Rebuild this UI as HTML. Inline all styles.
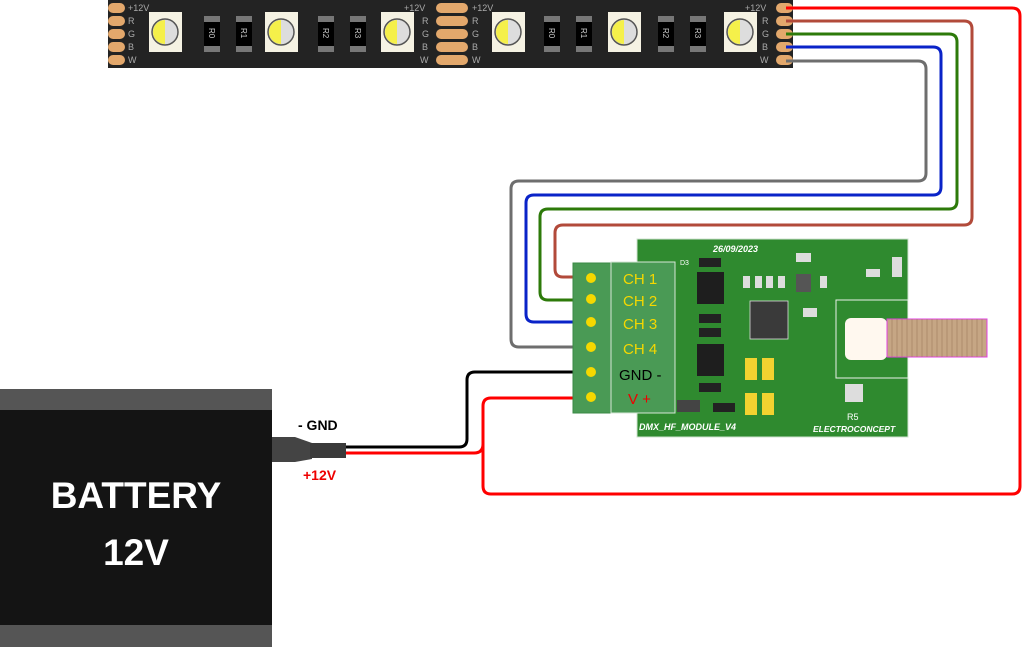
<!DOCTYPE html>
<html><head><meta charset="utf-8"><style>
html,body{margin:0;padding:0;background:#fff;width:1024px;height:647px;overflow:hidden}
text{font-family:"Liberation Sans","DejaVu Sans",sans-serif}
</style></head><body>
<svg width="1024" height="647" viewBox="0 0 1024 647" xmlns="http://www.w3.org/2000/svg">
<!-- LED strip -->
<rect x="108" y="0" width="685" height="68" fill="#232323"/>
<g fill="#e3a86c">
<rect x="108" y="3" width="17" height="10" rx="5"/><rect x="108" y="16" width="17" height="10" rx="5"/><rect x="108" y="29" width="17" height="10" rx="5"/><rect x="108" y="42" width="17" height="10" rx="5"/><rect x="108" y="55" width="17" height="10" rx="5"/>
<rect x="436" y="3" width="32" height="10" rx="5"/><rect x="436" y="16" width="32" height="10" rx="5"/><rect x="436" y="29" width="32" height="10" rx="5"/><rect x="436" y="42" width="32" height="10" rx="5"/><rect x="436" y="55" width="32" height="10" rx="5"/>
<rect x="776" y="3" width="17" height="10" rx="5"/><rect x="776" y="16" width="17" height="10" rx="5"/><rect x="776" y="29" width="17" height="10" rx="5"/><rect x="776" y="42" width="17" height="10" rx="5"/><rect x="776" y="55" width="17" height="10" rx="5"/>
</g>
<g fill="#aaa" font-size="9">
<text x="128" y="11">+12V</text><text x="128" y="24">R</text><text x="128" y="37">G</text><text x="128" y="50">B</text><text x="128" y="63">W</text>
<text x="404" y="11">+12V</text><text x="422" y="24">R</text><text x="422" y="37">G</text><text x="422" y="50">B</text><text x="420" y="63">W</text>
<text x="472" y="11">+12V</text><text x="472" y="24">R</text><text x="472" y="37">G</text><text x="472" y="50">B</text><text x="472" y="63">W</text>
<text x="745" y="11">+12V</text><text x="762" y="24">R</text><text x="762" y="37">G</text><text x="762" y="50">B</text><text x="760" y="63">W</text>
</g>
<g id="led">
</g>
<!-- LEDs -->
<g>
<g transform="translate(149,12)"><rect width="33" height="40" fill="#f5f2e3"/><circle cx="16" cy="20" r="13" fill="#ddd" stroke="#555" stroke-width="1.5"/><path d="M16 8 A12 12 0 0 0 16 32 Z" fill="#f5f04a"/></g>
<g transform="translate(265,12)"><rect width="33" height="40" fill="#f5f2e3"/><circle cx="16" cy="20" r="13" fill="#ddd" stroke="#555" stroke-width="1.5"/><path d="M16 8 A12 12 0 0 0 16 32 Z" fill="#f5f04a"/></g>
<g transform="translate(381,12)"><rect width="33" height="40" fill="#f5f2e3"/><circle cx="16" cy="20" r="13" fill="#ddd" stroke="#555" stroke-width="1.5"/><path d="M16 8 A12 12 0 0 0 16 32 Z" fill="#f5f04a"/></g>
<g transform="translate(492,12)"><rect width="33" height="40" fill="#f5f2e3"/><circle cx="16" cy="20" r="13" fill="#ddd" stroke="#555" stroke-width="1.5"/><path d="M16 8 A12 12 0 0 0 16 32 Z" fill="#f5f04a"/></g>
<g transform="translate(608,12)"><rect width="33" height="40" fill="#f5f2e3"/><circle cx="16" cy="20" r="13" fill="#ddd" stroke="#555" stroke-width="1.5"/><path d="M16 8 A12 12 0 0 0 16 32 Z" fill="#f5f04a"/></g>
<g transform="translate(724,12)"><rect width="33" height="40" fill="#f5f2e3"/><circle cx="16" cy="20" r="13" fill="#ddd" stroke="#555" stroke-width="1.5"/><path d="M16 8 A12 12 0 0 0 16 32 Z" fill="#f5f04a"/></g>
</g>
<!-- resistors -->
<g fill="#777">
<rect x="204" y="16" width="16" height="36"/><rect x="236" y="16" width="16" height="36"/><rect x="318" y="16" width="16" height="36"/><rect x="350" y="16" width="16" height="36"/>
<rect x="544" y="16" width="16" height="36"/><rect x="576" y="16" width="16" height="36"/><rect x="658" y="16" width="16" height="36"/><rect x="690" y="16" width="16" height="36"/>
</g>
<g fill="#000">
<rect x="204" y="22" width="16" height="24"/><rect x="236" y="22" width="16" height="24"/><rect x="318" y="22" width="16" height="24"/><rect x="350" y="22" width="16" height="24"/>
<rect x="544" y="22" width="16" height="24"/><rect x="576" y="22" width="16" height="24"/><rect x="658" y="22" width="16" height="24"/><rect x="690" y="22" width="16" height="24"/>
</g>
<g fill="#ccc" font-size="8">
<text transform="translate(209,28) rotate(90)">R0</text><text transform="translate(241,28) rotate(90)">R1</text><text transform="translate(323,28) rotate(90)">R2</text><text transform="translate(355,28) rotate(90)">R3</text>
<text transform="translate(549,28) rotate(90)">R0</text><text transform="translate(581,28) rotate(90)">R1</text><text transform="translate(663,28) rotate(90)">R2</text><text transform="translate(695,28) rotate(90)">R3</text>
</g>

<!-- wires -->
<g fill="none" stroke-width="3" stroke-linejoin="round">
<path d="M786 8 H1012 Q1020 8 1020 16 V486 Q1020 494 1012 494 H491 Q483 494 483 486 V406 Q483 398 491 398 H591" stroke="#f00"/>
<path d="M345 453 H474 Q483 453 483 444" stroke="#f00"/>
<path d="M345 447 H459 Q467 447 467 439 V380 Q467 372 475 372 H591" stroke="#000"/>
<path d="M786 21 H964 Q972 21 972 29 V217 Q972 225 964 225 H563 Q555 225 555 233 V269 Q555 277 563 277 H591" stroke="#b24a3a"/>
<path d="M786 34 H949 Q957 34 957 42 V201 Q957 209 949 209 H548 Q540 209 540 217 V292 Q540 300 548 300 H591" stroke="#2d7a0a"/>
<path d="M786 47 H933 Q941 47 941 55 V187 Q941 195 933 195 H534 Q526 195 526 203 V314 Q526 322 534 322 H591" stroke="#0a23c8"/>
<path d="M786 61 H918 Q926 61 926 69 V173 Q926 181 918 181 H519 Q511 181 511 189 V339 Q511 347 519 347 H591" stroke="#6e6e6e"/>
</g>

<!-- PCB -->
<rect x="637" y="239" width="271" height="198" fill="#2f8a2f" stroke="#cfe3cf" stroke-width="1"/>
<text x="713" y="252" font-size="9" font-weight="bold" font-style="italic" fill="#fff">26/09/2023</text>
<text x="639" y="430" font-size="9" font-weight="bold" font-style="italic" fill="#fff">DMX_HF_MODULE_V4</text>
<text x="813" y="432" font-size="8.5" font-weight="bold" font-style="italic" fill="#fff">ELECTROCONCEPT</text>
<rect x="697" y="272" width="27" height="32" fill="#1e1e1e"/>
<rect x="697" y="344" width="27" height="32" fill="#1e1e1e"/>
<rect x="750" y="301" width="38" height="38" fill="#3a3a3a" stroke="#ddd" stroke-width="0.8"/>
<g fill="#f2d230"><rect x="745" y="358" width="12" height="22"/><rect x="762" y="358" width="12" height="22"/><rect x="745" y="393" width="12" height="22"/><rect x="762" y="393" width="12" height="22"/></g>
<g fill="#ddd"><rect x="743" y="276" width="7" height="12"/><rect x="755" y="276" width="7" height="12"/><rect x="766" y="276" width="7" height="12"/><rect x="778" y="276" width="7" height="12"/><rect x="796" y="274" width="15" height="18" fill="#555"/><rect x="820" y="276" width="7" height="12"/><rect x="796" y="253" width="15" height="9"/><rect x="866" y="269" width="14" height="8"/><rect x="892" y="257" width="10" height="20"/><rect x="803" y="308" width="14" height="9"/><rect x="845" y="384" width="18" height="18"/><rect x="699" y="258" width="22" height="9" fill="#222"/><rect x="699" y="314" width="22" height="9" fill="#222"/><rect x="699" y="328" width="22" height="9" fill="#222"/><rect x="699" y="383" width="22" height="9" fill="#222"/><rect x="713" y="403" width="22" height="9" fill="#222"/><rect x="677" y="400" width="23" height="12" fill="#444"/></g>
<text x="680" y="265" font-size="7" fill="#fff">D3</text>
<text x="847" y="420" font-size="9" fill="#fff">R5</text>
<!-- SMA -->
<rect x="836" y="300" width="72" height="78" fill="#2f8a2f" stroke="#e8f0e8" stroke-width="1"/>
<rect x="845" y="318" width="42" height="42" rx="6" fill="#fff8ef"/>
<rect x="887" y="319" width="100" height="38" fill="#c6a684" stroke="#e040e0" stroke-width="1"/>
<g stroke="#a88668" stroke-width="0.8">
<path d="M892 319V357M897 319V357M902 319V357M907 319V357M912 319V357M917 319V357M922 319V357M927 319V357M932 319V357M937 319V357M942 319V357M947 319V357M952 319V357M957 319V357M962 319V357M967 319V357M972 319V357M977 319V357M982 319V357"/>
</g>
<!-- terminal -->
<rect x="573" y="263" width="38" height="150" fill="#4a9a55" stroke="#3a8a45"/>
<rect x="611" y="262" width="64" height="151" fill="#4a9a55" stroke="#d6e6d6" stroke-width="1"/>
<g fill="#f5d800"><circle cx="591" cy="278" r="5"/><circle cx="591" cy="299" r="5"/><circle cx="591" cy="322" r="5"/><circle cx="591" cy="347" r="5"/><circle cx="591" cy="372" r="5"/><circle cx="591" cy="397" r="5"/></g>
<g font-size="15" fill="#f5d800">
<text x="623" y="284">CH 1</text><text x="623" y="306">CH 2</text><text x="623" y="329">CH 3</text><text x="623" y="354">CH 4</text>
</g>
<text x="619" y="380" font-size="15" fill="#000">GND -</text>
<text x="628" y="404" font-size="15" fill="#e00">V +</text>

<!-- battery -->
<rect x="0" y="389" width="272" height="258" fill="#555"/>
<rect x="0" y="410" width="272" height="215" fill="#141414"/>
<path d="M272 437 H295 L312 443 V459 L295 462 H272 Z" fill="#444"/>
<rect x="310" y="443" width="36" height="15" fill="#3a3a3a"/>
<text x="136" y="508" font-size="37" font-weight="bold" fill="#fff" text-anchor="middle">BATTERY</text>
<text x="136" y="565" font-size="37" font-weight="bold" fill="#fff" text-anchor="middle">12V</text>
<text x="298" y="430" font-size="14" font-weight="bold" fill="#000">- GND</text>
<text x="303" y="480" font-size="14" font-weight="bold" fill="#e00">+12V</text>
</svg>
</body></html>
